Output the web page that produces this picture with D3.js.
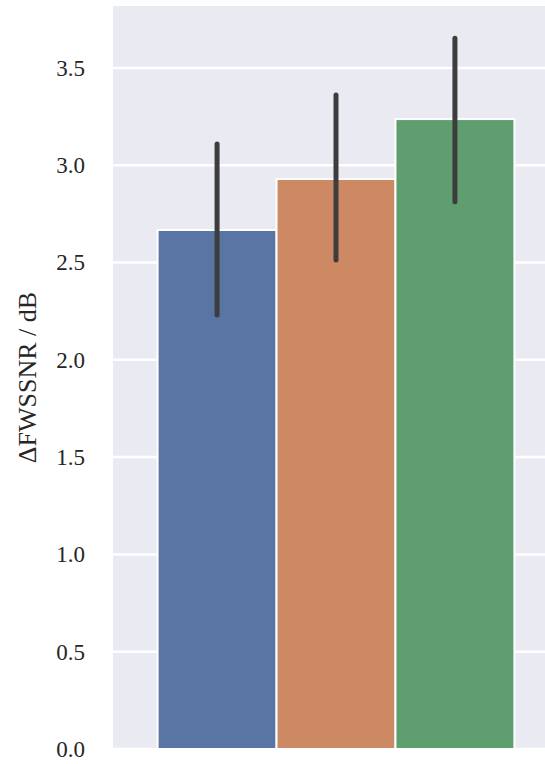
<!DOCTYPE html>
<html>
<head>
<meta charset="utf-8">
<script src="https://cdn.jsdelivr.net/npm/d3@7"></script>
<style>
  body { margin: 0; background: #fff; }
  text { font-family: "Liberation Serif", "Times New Roman", serif; }
</style>
</head>
<body>
<div id="container"></div>
<script>
/* CONSTANTS AND GLOBALS */
const width = 545,
  height = 764,
  margin = { top: 6, bottom: 15, left: 113, right: -14 };

// one group on x, three hue levels
const groups = ["A", "B", "C"];
const means = [2.667, 2.929, 3.237];
const ciLow = [2.230, 2.513, 2.812];
const ciHigh = [3.109, 3.361, 3.652];
const colors = ["#5875a4", "#cc8963", "#5f9e6e"];
const yTicks = [0.0, 0.5, 1.0, 1.5, 2.0, 2.5, 3.0, 3.5];

const svg = d3.select("#container")
  .append("svg")
  .attr("width", width)
  .attr("height", height);

// x in seaborn data units: category at 0, axis -0.5..0.5
const xScale = d3.scaleLinear()
  .domain([-0.5, 0.5])
  .range([margin.left, width - margin.right]);

const yScale = d3.scaleLinear()
  .domain([0, 3.818])
  .range([height - margin.bottom, margin.top]);

const barW = 0.8 / groups.length;

// background
svg.append("rect")
  .attr("x", margin.left)
  .attr("y", margin.top)
  .attr("width", width - margin.right - margin.left)
  .attr("height", height - margin.bottom - margin.top)
  .attr("fill", "#eaeaf2");

// gridlines
svg.selectAll("line.grid")
  .data(yTicks)
  .join("line")
  .attr("class", "grid")
  .attr("x1", margin.left)
  .attr("x2", width - margin.right)
  .attr("y1", d => yScale(d))
  .attr("y2", d => yScale(d))
  .attr("stroke", "#fff")
  .attr("stroke-width", 2.5);

// y axis (labels only)
const yAxis = d3.axisLeft(yScale)
  .tickValues(yTicks)
  .tickFormat(d3.format(".1f"))
  .tickSize(0)
  .tickPadding(28);

const yAxisGroup = svg.append("g")
  .attr("transform", `translate(${margin.left}, 0)`)
  .call(yAxis);
yAxisGroup.select(".domain").remove();
yAxisGroup.selectAll("text")
  .attr("font-family", "Liberation Serif, serif")
  .attr("font-size", 23)
  .attr("fill", "#262626");

// bars
svg.selectAll("rect.bar")
  .data(groups)
  .join("rect")
  .attr("class", "bar")
  .attr("x", (d, i) => xScale(-0.4 + i * barW))
  .attr("width", xScale(barW) - xScale(0))
  .attr("y", (d, i) => yScale(means[i]))
  .attr("height", (d, i) => yScale(0) - yScale(means[i]))
  .attr("fill", (d, i) => colors[i])
  .attr("stroke", "#fff")
  .attr("stroke-width", 2);

// error bars
svg.selectAll("line.err")
  .data(groups)
  .join("line")
  .attr("class", "err")
  .attr("x1", (d, i) => xScale(-0.4 + (i + 0.5) * barW))
  .attr("x2", (d, i) => xScale(-0.4 + (i + 0.5) * barW))
  .attr("y1", (d, i) => yScale(ciLow[i]))
  .attr("y2", (d, i) => yScale(ciHigh[i]))
  .attr("stroke", "#3d3d3d")
  .attr("stroke-width", 5)
  .attr("stroke-linecap", "round");

// y label
svg.append("text")
  .attr("transform", `translate(36, ${(margin.top + height - margin.bottom) / 2}) rotate(-90)`)
  .attr("text-anchor", "middle")
  .attr("font-size", 26)
  .attr("fill", "#262626")
  .text("ΔFWSSNR / dB");
</script>
</body>
</html>
